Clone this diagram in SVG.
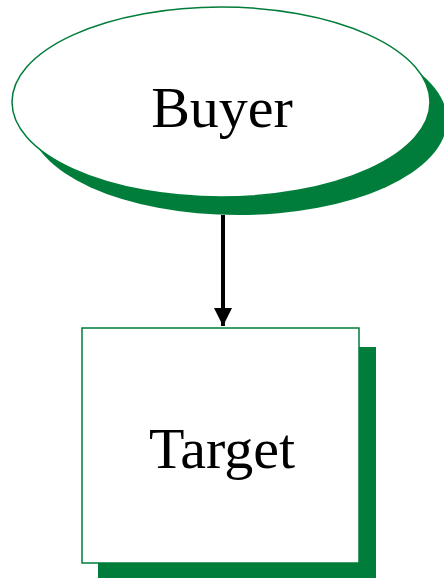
<svg xmlns="http://www.w3.org/2000/svg" width="444" height="579" viewBox="0 0 444 579">
<defs>
<style>
.shadow{fill:#007d3a;}
.shape{fill:#ffffff;stroke:#007d3a;stroke-width:1.5;}
.label{font-family:"Liberation Serif","Times New Roman",serif;font-size:58px;fill:#000;text-anchor:middle;}
.conn{stroke:#000;stroke-width:4;fill:none;}
</style>
<marker id="arrow" markerUnits="userSpaceOnUse" markerWidth="18" markerHeight="20" refX="18" refY="9" orient="auto">
<path d="M0,0 L18,9 L0,18 Z" fill="#000"/>
</marker>
</defs>
<g id="buyer">
<ellipse class="shadow" cx="238" cy="120" rx="209" ry="95"/>
<ellipse class="shape" cx="221" cy="102" rx="209" ry="95"/>
<text class="label" x="222" y="127">Buyer</text>
</g>
<g id="target">
<rect class="shadow" x="98" y="347" width="278" height="231"/>
<rect class="shape" x="82" y="328" width="277" height="235"/>
<text class="label" x="222" y="468">Target</text>
</g>
<g id="connectors">
<line class="conn" x1="223" y1="215" x2="223" y2="326" marker-end="url(#arrow)"/>
</g>
</svg>
